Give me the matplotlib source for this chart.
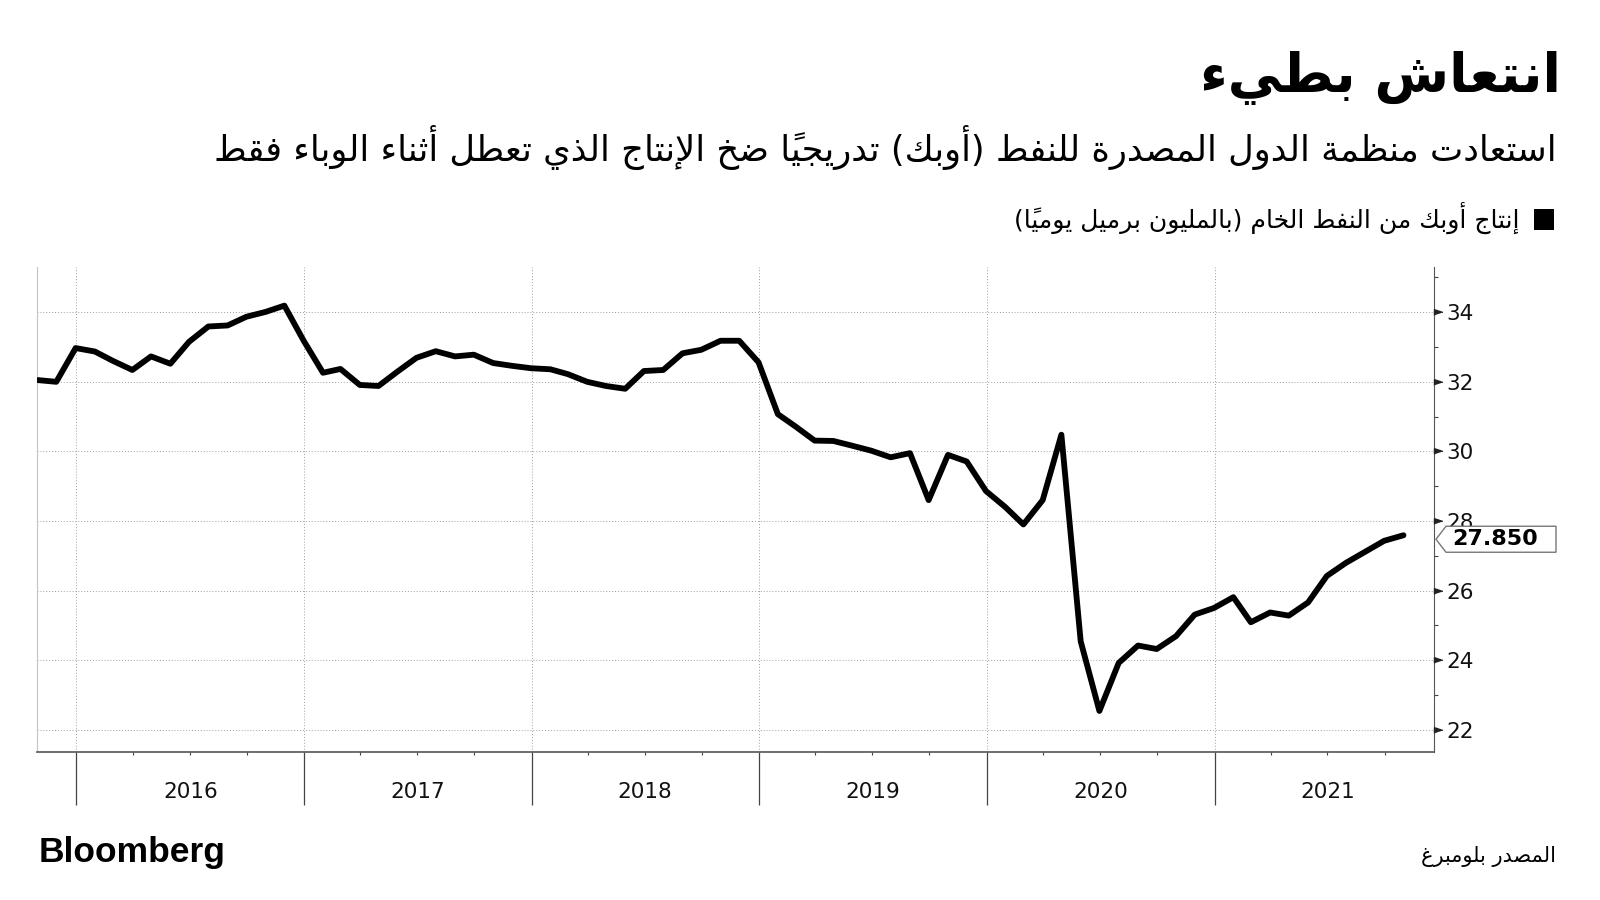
"""OPEC crude output, Bloomberg-style line chart with Arabic captions.

matplotlib has no Arabic shaping, so the captions are turned into
presentation forms and put into visual order by a tiny shaper below.
"""

import numpy as np
import pandas as pd
import matplotlib

matplotlib.use("Agg")
import matplotlib.pyplot as plt
import matplotlib.dates as mdates
import matplotlib.transforms as mtransforms
from matplotlib.patches import Polygon, Rectangle

TITLE = "انتعاش بطيء"
SUBTITLE = ("استعادت منظمة الدول المصدرة للنفط (أوبك) تدريجياً "
            "ضخ الإنتاج الذي تعطل أثناء الوباء فقط")
SERIES_LABEL = "إنتاج أوبك من النفط الخام (بالمليون برميل يومياً)"
SOURCE = "المصدر بلومبرغ"
BRAND = "Bloomberg"
LAST_LABEL = "27.850"

# monthly, Oct 2015 .. Oct 2021 (million barrels a day)
MONTHS = pd.date_range("2015-10-01", periods=73, freq="MS") + pd.offsets.MonthEnd(0)
OUTPUT = [
    32.05, 32.00, 32.97,
    32.87, 32.60, 32.34, 32.73, 32.52, 33.15, 33.59, 33.62, 33.87, 34.01, 34.19, 33.18,
    32.26, 32.37, 31.91, 31.88, 32.30, 32.69, 32.88, 32.73, 32.78, 32.54, 32.46, 32.39,
    32.36, 32.22, 32.00, 31.88, 31.80, 32.31, 32.34, 32.82, 32.92, 33.18, 33.18, 32.56,
    31.07, 30.72, 30.31, 30.30, 30.16, 30.02, 29.83, 29.95, 28.60, 29.90, 29.71, 28.86,
    28.40, 27.90, 28.60, 30.48, 24.54, 22.54, 23.92, 24.42, 24.32, 24.69, 25.31, 25.50,
    25.81, 25.09, 25.37, 25.28, 25.66, 26.42, 26.80, 27.12, 27.43, 27.59,
]
YEARS = [2016, 2017, 2018, 2019, 2020, 2021]
YTICKS = [22, 24, 26, 28, 30, 32, 34]
YMINOR = [23, 25, 27, 29, 31, 33, 35]

# --- minimal Arabic shaper -------------------------------------------------
# Presentation Forms-B run from U+FE80 in code-point order; each letter has
# 1, 2 or 4 forms (isolated, final, initial, medial).
AR_CODES = list(range(0x621, 0x63B)) + list(range(0x641, 0x64B))
AR_NFORMS = "12222424244444222244444444" + "4444444224"
FORMS = {}
_pos = 0xFE80
for _cp, _n in zip(AR_CODES, AR_NFORMS):
    FORMS[chr(_cp)] = [chr(_pos + k) for k in range(int(_n))]
    _pos += int(_n)
LAM_ALEF = {"آ": 0xFEF5, "أ": 0xFEF7, "إ": 0xFEF9, "ا": 0xFEFB}
MIRROR = {"(": ")", ")": "("}


def is_mark(c):
    return 0x64B <= ord(c) <= 0x652


def dual(c):
    return c is not None and len(FORMS.get(c, ())) == 4


def shape(text):
    chars = list(text)
    n = len(chars)

    def prev_letter(i):
        j = i - 1
        while j >= 0 and is_mark(chars[j]):
            j -= 1
        return chars[j] if j >= 0 else None

    def next_index(i):
        j = i + 1
        while j < n and is_mark(chars[j]):
            j += 1
        return j

    clusters = []
    i = 0
    while i < n:
        c = chars[i]
        if is_mark(c) and clusters:
            clusters[-1] += c
            i += 1
            continue
        if c not in FORMS:
            clusters.append(MIRROR.get(c, c))
            i += 1
            continue
        forms = FORMS[c]
        j = next_index(i)
        nxt = chars[j] if j < n else None
        right = dual(prev_letter(i)) and len(forms) > 1
        if c == "ل" and nxt in LAM_ALEF:
            clusters.append(chr(LAM_ALEF[nxt] + int(right)))
            i = j + 1
            continue
        left = dual(c) and nxt in FORMS and len(FORMS[nxt]) > 1
        if right and left:
            g = forms[3]
        elif right:
            g = forms[1]
        elif left:
            g = forms[2]
        else:
            g = forms[0]
        clusters.append(g)
        i += 1
    return "".join(reversed(clusters))


# --- figure -----------------------------------------------------------------
AR = ["DejaVu Sans"]
NUM = ["DejaVu Sans"]

fig = plt.figure(figsize=(16, 9), dpi=100)
W, H = 1600, 900
ax = fig.add_axes([37 / W, 1 - 752 / H, (1434 - 37) / W, (752 - 267) / H])

ax.plot(MONTHS, OUTPUT, color="black", lw=4.2, solid_joinstyle="round",
        solid_capstyle="round", zorder=3)

ax.set_xlim(np.datetime64("2015-10-30"), np.datetime64("2021-12-19"))
ax.set_ylim(21.36, 35.3)

# x axis: long separators at year starts, short ticks at quarters
ax.xaxis.set_major_locator(mdates.YearLocator())
ax.xaxis.set_minor_locator(mdates.MonthLocator(bymonth=[4, 7, 10]))
ax.xaxis.set_major_formatter(plt.NullFormatter())
ax.xaxis.set_minor_formatter(plt.NullFormatter())
ax.tick_params(axis="x", which="major", length=38, width=0.9, color="#444444")
ax.tick_params(axis="x", which="minor", length=2.5, width=0.8, color="#444444")
for y in YEARS:
    ax.text(mdates.date2num(np.datetime64(f"{y}-07-02")), -0.082, str(y),
            transform=ax.get_xaxis_transform(), ha="center", va="center",
            fontsize=15.5, family=NUM, color="#111111")

# y axis on the right with pointer-style major ticks
ax.yaxis.tick_right()
ax.set_yticks(YTICKS)
ax.set_yticks(YMINOR, minor=True)
ax.tick_params(axis="y", which="major", length=0, pad=9, labelsize=15.5,
               labelcolor="#111111")
ax.tick_params(axis="y", which="minor", length=3, width=0.8, color="#444444")
for lab in ax.get_yticklabels():
    lab.set_family(NUM)
ax.plot([1] * len(YTICKS), YTICKS, ls="none",
        marker=[(0, -1), (0, 1), (3, 0)], ms=12, color="#222222",
        transform=ax.get_yaxis_transform(), clip_on=False, zorder=4)

ax.grid(True, which="major", color="#a0a0a0", linestyle=(0, (1, 2)), lw=0.7)
ax.spines["top"].set_visible(False)
ax.spines["left"].set_color("#c4c4c4")
ax.spines["right"].set_color("#555555")
ax.spines["bottom"].set_color("#555555")
ax.spines["bottom"].set_linewidth(1.2)

# last-value flag, hung just under the line end as in the source
x0, y0 = ax.get_yaxis_transform().transform((1.0, OUTPUT[-1]))
y0 -= 4
ident = mtransforms.IdentityTransform()
flag = Polygon([(x0 + 2, y0), (x0 + 12, y0 + 13), (x0 + 122, y0 + 13),
                (x0 + 122, y0 - 13), (x0 + 12, y0 - 13)], closed=True,
               facecolor="white", edgecolor="#777777", lw=1.0, transform=ident)
fig.add_artist(flag)
fig.text(x0 + 18, y0, LAST_LABEL, transform=ident, ha="left", va="center",
         fontsize=16, weight="bold", family=NUM, color="black")

# header
fig.text(1561 / W, 1 - 92 / H, shape(TITLE), ha="right", va="baseline",
         fontsize=39, weight="bold", family=AR, color="black")
fig.text(1557 / W, 1 - 161 / H, shape(SUBTITLE), ha="right", va="baseline",
         fontsize=25.4, family=AR, color="black")
fig.add_artist(Rectangle((1534 / W, 1 - 230 / H), 20 / W, 21 / H,
                         transform=fig.transFigure, facecolor="black",
                         edgecolor="none"))
fig.text(1520 / W, 1 - 228 / H, shape(SERIES_LABEL), ha="right",
         va="baseline", fontsize=18, family=AR, color="black")

# footer
fig.text(39 / W, 1 - 862 / H, BRAND, ha="left", va="baseline", fontsize=25.5,
         weight="bold", family=["Liberation Sans", "DejaVu Sans"], color="black")
fig.text(1556 / W, 1 - 862 / H, shape(SOURCE), ha="right", va="baseline",
         fontsize=15, family=AR, color="black")

fig.savefig("out.png", dpi=100, facecolor="white")
